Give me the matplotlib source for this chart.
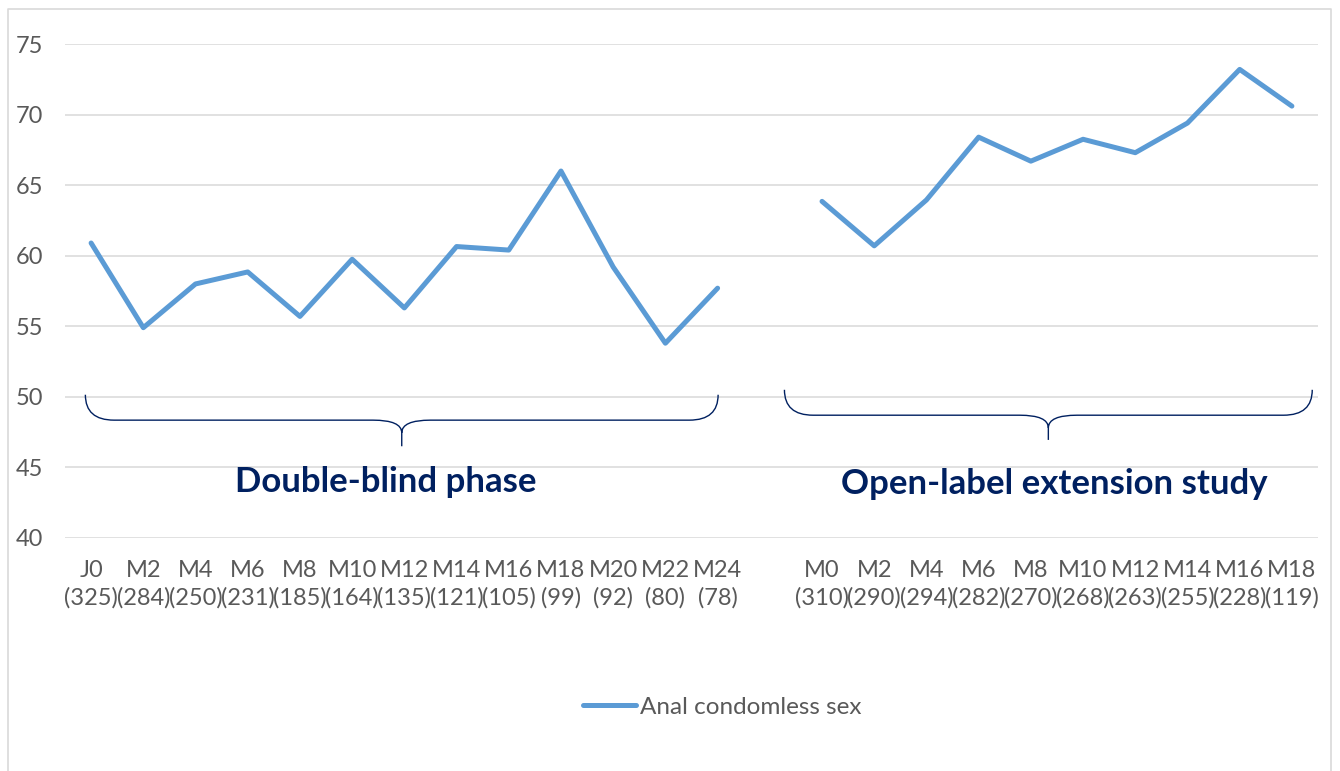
import numpy as np
import matplotlib
matplotlib.use('Agg')
import matplotlib.pyplot as plt
from matplotlib.path import Path
from matplotlib.patches import PathPatch
from matplotlib.lines import Line2D

plt.rcParams['font.family'] = ['Lato', 'DejaVu Sans']

# double-blind phase
db_labels = ['J0', 'M2', 'M4', 'M6', 'M8', 'M10', 'M12', 'M14', 'M16', 'M18', 'M20', 'M22', 'M24']
db_counts = ['325', '284', '250', '231', '185', '164', '135', '121', '105', '99', '92', '80', '78']
db_values = [60.9, 54.9, 58.0, 58.85, 55.7, 59.75, 56.3, 60.65, 60.4, 66.0, 59.2, 53.8, 57.7]

# open-label extension study
ole_labels = ['M0', 'M2', 'M4', 'M6', 'M8', 'M10', 'M12', 'M14', 'M16', 'M18']
ole_counts = ['310', '290', '294', '282', '270', '268', '263', '255', '228', '119']
ole_values = [63.85, 60.7, 63.95, 68.4, 66.7, 68.25, 67.3, 69.4, 73.2, 70.6]

series_name = 'Anal condomless sex'

# one empty category between the two phases
labels = [f'{l}\n({c})' for l, c in zip(db_labels, db_counts)] + [''] + \
         [f'{l}\n({c})' for l, c in zip(ole_labels, ole_counts)]
values = db_values + [np.nan] + ole_values
x = np.arange(len(labels))

W, H = 1340, 771
fig = plt.figure(figsize=(W / 100, H / 100), dpi=100)
ax = fig.add_axes([65 / W, (H - 538) / H, 1253 / W, 494 / H])

line_color = '#5B9BD5'
text_grey = '#595959'
navy = '#002060'

ax.plot(x, values, color=line_color, lw=3.6, solid_capstyle='round',
        solid_joinstyle='round', label=series_name)

ax.set_xlim(-0.5, len(labels) - 0.5)
ax.set_ylim(40, 75)
ax.set_yticks(np.arange(40, 76, 5))
ax.set_xticks(x)
ax.set_xticklabels(labels, linespacing=1.35)
ax.grid(axis='y', color='#D9D9D9', lw=1.1)
ax.set_axisbelow(True)
for s in ax.spines.values():
    s.set_visible(False)
ax.tick_params(axis='both', length=0, colors=text_grey, labelsize=17)
ax.tick_params(axis='y', pad=16)
ax.tick_params(axis='x', pad=16)


def brace(ax, x0, x1, ytop, ymid, ybot, rx, ry):
    xm = (x0 + x1) / 2
    verts = [(x0, ytop), (x0, ymid), (x0 + rx, ymid),
             (xm - rx, ymid),
             (xm, ymid), (xm, ymid - ry),
             (xm, ybot),
             (xm, ymid - ry),
             (xm, ymid), (xm + rx, ymid),
             (x1 - rx, ymid),
             (x1, ymid), (x1, ytop)]
    codes = [Path.MOVETO, Path.CURVE3, Path.CURVE3,
             Path.LINETO,
             Path.CURVE3, Path.CURVE3,
             Path.LINETO,
             Path.MOVETO,
             Path.CURVE3, Path.CURVE3,
             Path.LINETO,
             Path.CURVE3, Path.CURVE3]
    ax.add_patch(PathPatch(Path(verts, codes), fill=False, ec=navy, lw=1.0,
                           clip_on=False))


brace(ax, -0.11, 12.01, 50.15, 48.35, 46.5, 0.55, 0.9)
brace(ax, 13.28, 23.39, 50.5, 48.7, 46.95, 0.55, 0.9)

ax.text(5.65, 44.0, 'Double-blind phase', color=navy, fontsize=25,
        fontweight='bold', ha='center', va='center')
ax.text(18.45, 43.85, 'Open-label extension study', color=navy, fontsize=25,
        fontweight='bold', ha='center', va='center')

fig.legend(loc='center', bbox_to_anchor=(722 / W, 1 - 707 / H), frameon=False,
           fontsize=17.5, labelcolor=text_grey, handlelength=2.2,
           handletextpad=0.15)

# chart frame
fig.add_artist(Line2D([8 / W, 8 / W, 1331 / W, 1331 / W], [0, 1 - 9 / H, 1 - 9 / H, 0],
                      transform=fig.transFigure, color='#D9D9D9', lw=1.2))

fig.savefig('out.png', dpi=100)
